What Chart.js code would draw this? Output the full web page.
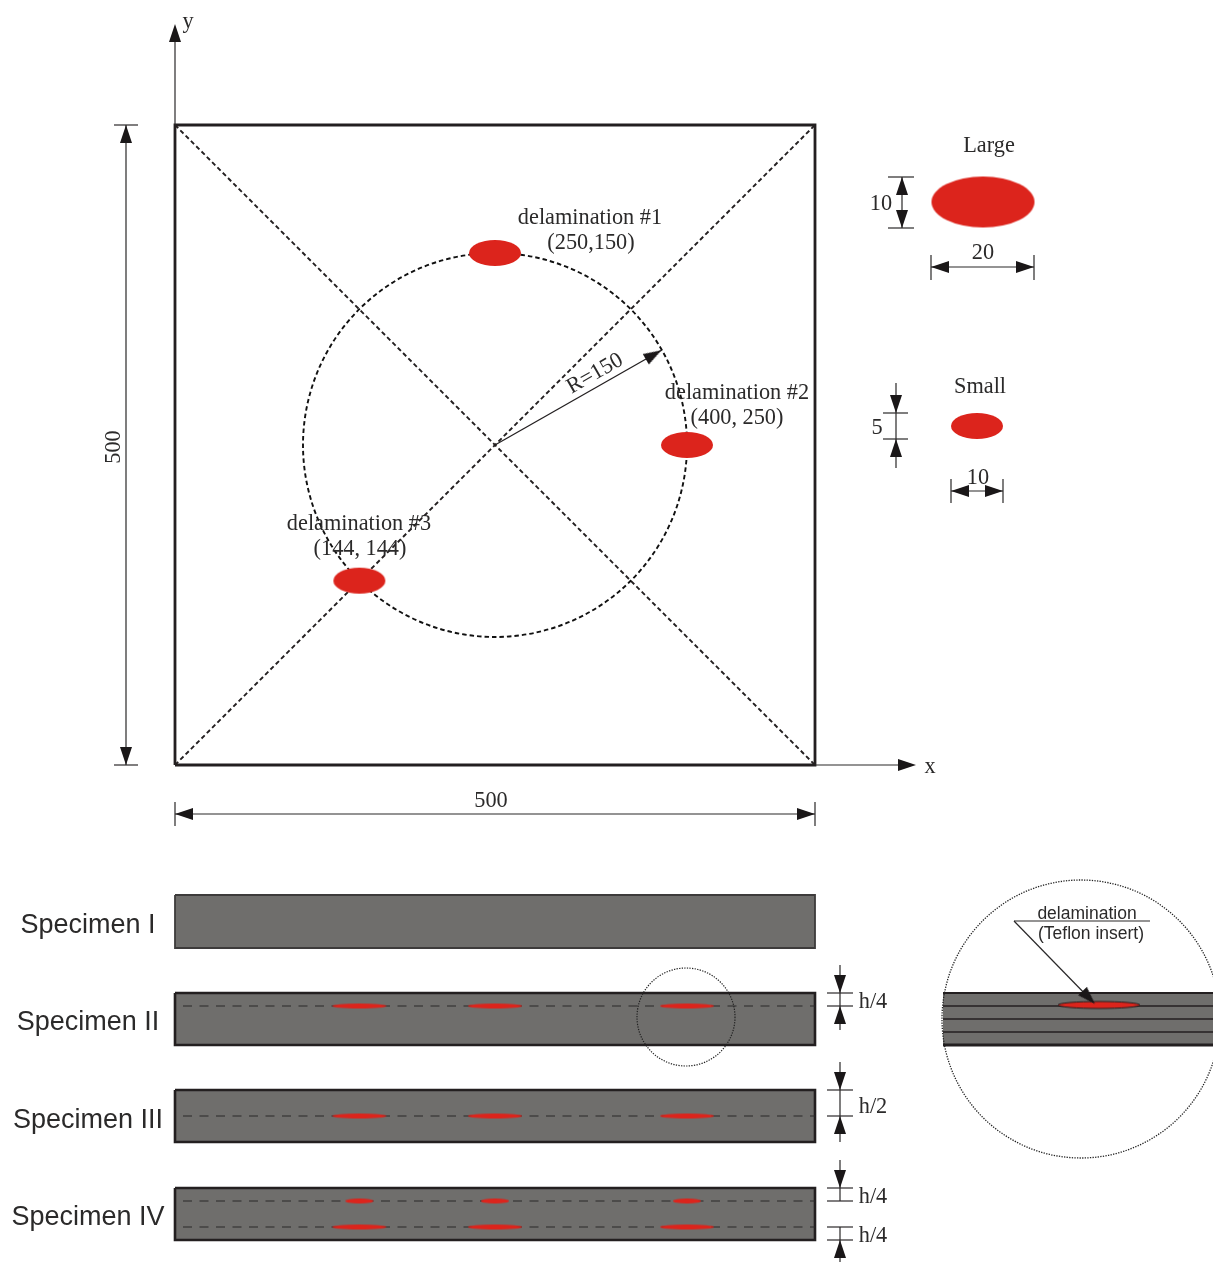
<!DOCTYPE html>
<html>
<head>
<meta charset="utf-8">
<title>Specimen layout</title>
<script src="https://cdn.jsdelivr.net/npm/chart.js@4"></script>
<style>
  html, body { margin: 0; padding: 0; background: #fff; }
  canvas { display: block; }
</style>
</head>
<body>
<canvas id="myChart" width="1213" height="1263"></canvas>
<script>
// PLATE, in mm on the x / y axes
const plateOutline = [[0, 0], [500, 0], [500, 500], [0, 500], [0, 0]];
const diagonalUp = [[0, 0], [500, 500]];
const diagonalDown = [[0, 500], [500, 0]];
const circleCentre = [[250, 250]];
const circleRadius = 150;
const delamX = [250, 400, 144];
const delamY = [400, 250, 144];
const radiusLine = [[250, 250], [380, 324]];

// SPECIMEN STRIPS, x in mm, y on the sheet axis
const stripNames = ['Specimen I', 'Specimen II', 'Specimen III', 'Specimen IV'];
const stripTop = [895, 993, 1090, 1188];
const stripBottom = [948, 1045, 1142, 1240];
const stripLayersFull = [[], [1006], [1116], []];
const stripLayersShort = [[], [], [], [1201]];
const stripLayersLong = [[], [], [], [1227]];

// DIMENSION LINES, sheet axis
const dimLines = [
  [[126, 125], [126, 765]], [[114, 125], [138, 125]], [[114, 765], [138, 765]],
  [[175, 814], [815, 814]], [[175, 802], [175, 826]], [[815, 802], [815, 826]],
  [[175, 125], [175, 40]], [[815, 765], [900, 765]],
  [[902, 177], [902, 228]], [[888, 177], [914, 177]], [[888, 228], [914, 228]],
  [[931, 267], [1034, 267]], [[931, 255], [931, 280]], [[1034, 255], [1034, 280]],
  [[896, 383], [896, 468]], [[883, 413], [908, 413]], [[883, 439], [908, 439]],
  [[951, 491], [1003, 491]], [[951, 479], [951, 503]], [[1003, 479], [1003, 503]],
  [[840, 965], [840, 1030]], [[827, 993], [853, 993]], [[827, 1006], [853, 1006]],
  [[840, 1062], [840, 1142]], [[827, 1090], [853, 1090]], [[827, 1116], [853, 1116]],
  [[840, 1160], [840, 1201]], [[827, 1188], [853, 1188]], [[827, 1201], [853, 1201]],
  [[840, 1227], [840, 1262]], [[827, 1227], [853, 1227]], [[827, 1240], [853, 1240]],
  [[1014, 921], [1150, 921]], [[1014, 921], [1090, 999]]
];
// arrow tips on the sheet axis, with the way each one points in degrees
const arrowTips = [
  [175, 24], [916, 765], [126, 125], [126, 765], [175, 814], [815, 814],
  [902, 177], [902, 228], [931, 267], [1034, 267],
  [896, 413], [896, 439], [951, 491], [1003, 491],
  [840, 993], [840, 1006], [840, 1090], [840, 1116], [840, 1188], [840, 1240],
  [1095, 1004]
];
const arrowAngles = [
  0, 90, 0, 180, 270, 90,
  0, 180, 270, 90,
  180, 0, 270, 90,
  180, 0, 180, 0, 180, 0,
  136
];
const keyLarge = [[983, 202]];
const keySmall = [[977, 426]];
const zoomCircleSmall = [[686, 1017]];
const zoomCircleBig = [[1081, 1019]];
const detailLayers = [1019, 1032];
const detailLens = [[1099, 1005]];

// TEXT
const serifLabels = [
  ['y', 188, 20], ['x', 930, 765], ['500', 491, 799],
  ['delamination #1', 590, 216], ['(250,150)', 591, 241],
  ['delamination #2', 737, 391], ['(400, 250)', 737, 416],
  ['delamination #3', 359, 522], ['(144, 144)', 360, 547],
  ['Large', 989, 144], ['10', 881, 202], ['20', 983, 251],
  ['Small', 980, 385], ['5', 877, 426], ['10', 978, 476],
  ['h/4', 873, 1000], ['h/2', 873, 1105], ['h/4', 873, 1195], ['h/4', 873, 1234]
];
const rotatedLabels = [['500', 112, 447, -90], ['R=150', 594, 372, -30]];
const sansLabels = [['delamination', 1087, 912], ['(Teflon insert)', 1091, 932]];
const stripLabelX = [88, 88, 88, 88];
const stripLabelY = [924, 1021, 1119, 1216];

const pxPerMm = 1.28;
const RED = '#dc241c';
const GREY = '#6f6e6c';
const INK = '#231f20';

const ellipseImage = (w, h, fill, stroke, lineWidth, dash) => {
  const c = document.createElement('canvas');
  c.width = w + 4;
  c.height = h + 4;
  const g = c.getContext('2d');
  g.beginPath();
  g.ellipse(c.width / 2, c.height / 2, w / 2, h / 2, 0, 0, Math.PI * 2);
  if (fill) { g.fillStyle = fill; g.fill(); }
  if (stroke) {
    g.strokeStyle = stroke;
    g.lineWidth = lineWidth;
    g.setLineDash(dash || []);
    g.stroke();
  }
  return c;
};

// tip sits at the middle of the image so the rotation turns round the tip
const arrowImage = (() => {
  const c = document.createElement('canvas');
  c.width = 14;
  c.height = 38;
  const g = c.getContext('2d');
  g.fillStyle = '#1a1718';
  g.beginPath();
  g.moveTo(7, 19);
  g.lineTo(13, 37);
  g.lineTo(1, 37);
  g.closePath();
  g.fill();
  return c;
})();

const toXY = (list) => list.map((p) => ({ x: p[0], y: p[1] }));
const datasets = [];

const addLine = (points, color, width, dash, xAxisID, yAxisID) => {
  datasets.push({
    data: toXY(points), showLine: true, pointRadius: 0, borderColor: color, borderWidth: width,
    borderDash: dash || [], xAxisID: xAxisID || 'px', yAxisID: yAxisID || 'py', clip: false
  });
};
const addBand = (xAxisID, x0, x1, top, bottom) => {
  datasets.push({
    data: [{ x: x0, y: top }, { x: x1, y: top }], showLine: true, pointRadius: 0, borderWidth: 0,
    backgroundColor: GREY, fill: { value: bottom }, xAxisID: xAxisID, yAxisID: 'py'
  });
};
const addPoints = (points, image, xAxisID, yAxisID, angles) => {
  datasets.push({
    data: toXY(points), pointStyle: image, pointRadius: 10, pointRotation: angles || 0,
    xAxisID: xAxisID || 'px', yAxisID: yAxisID || 'py', clip: false
  });
};

// strips first, everything else on top
stripNames.forEach((name, i) => {
  addBand('x', 0, 500, stripTop[i], stripBottom[i]);
  const edge = [[0, stripTop[i]], [500, stripTop[i]], [500, stripBottom[i]], [0, stripBottom[i]], [0, stripTop[i]]];
  addLine(edge, i === 0 ? '#3d3b3b' : INK, i === 0 ? 1.8 : 2.6, [], 'x', 'py');
  const rows = [...stripLayersFull[i], ...stripLayersShort[i], ...stripLayersLong[i]];
  rows.forEach((y) => addLine([[183, y], [815, y]], '#2a2829', 1.2, [9, 7.5]));
  stripLayersFull[i].concat(stripLayersLong[i]).forEach((y) => {
    addPoints(delamX.map((x) => [x, y]), ellipseImage(54, 5, RED), 'x');
  });
  stripLayersShort[i].forEach((y) => {
    addPoints(delamX.map((x) => [x, y]), ellipseImage(28, 5, RED), 'x');
  });
});

// blown-up piece of specimen II
addBand('px', 943, 1213, 993, 1045);
addLine([[943, 993], [1213, 993]], INK, 2.2);
addLine([[943, 1045], [1213, 1045]], INK, 3);
addLine([[943, 1006], [1213, 1006]], INK, 1.5);
detailLayers.forEach((y) => addLine([[943, y], [1213, y]], INK, 1.5));
addPoints(detailLens, ellipseImage(82, 7, RED, INK, 1));
addPoints(zoomCircleSmall, ellipseImage(98, 98, null, '#222', 1.2, [1.3, 1.3]));
addPoints(zoomCircleBig, ellipseImage(278, 278, null, '#222', 1.3, [1.3, 1.3]));

// plate
addLine(diagonalUp, INK, 1.9, [4.5, 3], 'x', 'y');
addLine(diagonalDown, INK, 1.9, [4.5, 3], 'x', 'y');
const ringSize = circleRadius * 2 * pxPerMm;
addPoints(circleCentre, ellipseImage(ringSize, ringSize, null, '#111', 1.9, [4.5, 3]), 'x', 'y');
addLine(plateOutline, INK, 2.8, [], 'x', 'y');
addLine(radiusLine, INK, 1.3, [], 'x', 'y');
addPoints(delamX.map((x, i) => [x, delamY[i]]), ellipseImage(52, 26, RED), 'x', 'y');

// key ellipses, dimension lines, arrows
addPoints(keyLarge, ellipseImage(103, 51, RED));
addPoints(keySmall, ellipseImage(52, 26, RED));
dimLines.forEach((seg) => addLine(seg, '#2a2829', 1.2));
addPoints(arrowTips, arrowImage, 'px', 'py', arrowAngles);
addPoints(radiusLine.slice(1), arrowImage, 'x', 'y', [60]);

datasets.forEach((d, i) => { d.order = datasets.length - i; });

const textPlugin = {
  id: 'sheetText',
  afterDatasetsDraw(chart) {
    const ctx = chart.ctx;
    const px = chart.scales.px;
    const py = chart.scales.py;
    const put = (text, x, y, font, angle) => {
      ctx.save();
      ctx.translate(px.getPixelForValue(x), py.getPixelForValue(y));
      if (angle) ctx.rotate(angle * Math.PI / 180);
      ctx.font = font;
      ctx.textAlign = 'center';
      ctx.textBaseline = 'middle';
      ctx.fillText(text, 0, 2);
      ctx.restore();
    };
    ctx.fillStyle = '#2b2a2a';
    serifLabels.forEach((l) => put(l[0], l[1], l[2], '22.3px "Liberation Serif"'));
    rotatedLabels.forEach((l) => put(l[0], l[1], l[2], '22.3px "Liberation Serif"', l[3]));
    sansLabels.forEach((l) => put(l[0], l[1], l[2], '17.5px "Liberation Sans"'));
    stripNames.forEach((name, i) => put(name, stripLabelX[i], stripLabelY[i], '27px "Liberation Sans"'));
  }
};

new Chart(document.getElementById('myChart'), {
  type: 'scatter',
  data: { datasets: datasets },
  plugins: [textPlugin],
  options: {
    responsive: false,
    animation: false,
    events: [],
    layout: { padding: 0, autoPadding: false },
    plugins: { legend: { display: false }, tooltip: { enabled: false } },
    scales: {
      x: { type: 'linear', display: false, min: -175 / pxPerMm, max: (1213 - 175) / pxPerMm },
      y: { type: 'linear', display: false, min: (765 - 1263) / pxPerMm, max: 765 / pxPerMm },
      px: { type: 'linear', axis: 'x', display: false, min: 0, max: 1213 },
      py: { type: 'linear', axis: 'y', display: false, reverse: true, min: 0, max: 1263 }
    }
  }
});
</script>
</body>
</html>
